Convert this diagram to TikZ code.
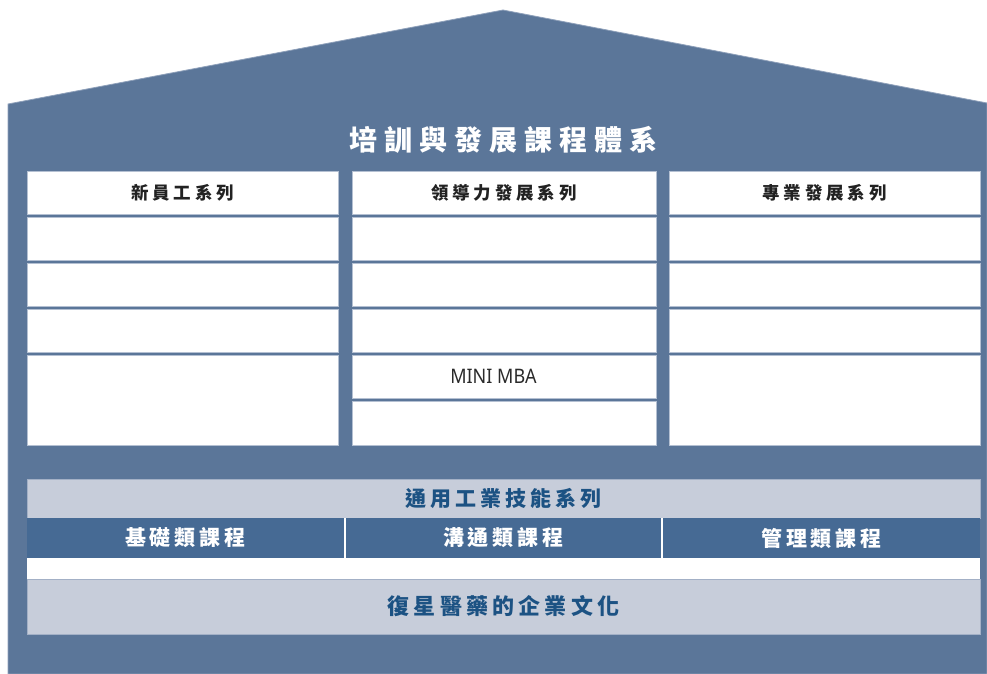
\documentclass[tikz,border=0pt]{standalone}
\usepackage{fontspec}
\newfontfamily\cjkT[LetterSpace=25]{Noto Sans CJK TC}
\newfontfamily\cjkH[LetterSpace=22]{Noto Sans CJK TC}
\newfontfamily\cjkB[LetterSpace=19]{Noto Sans CJK TC}
\newfontfamily\latinL{Noto Sans}
\definecolor{housebg}{HTML}{5B7699}
\definecolor{houseedge}{HTML}{8EA0BA}
\definecolor{darkband}{HTML}{466A94}
\definecolor{greyband}{HTML}{C7CDDA}
\definecolor{greyedge}{HTML}{A3B0C6}
\definecolor{celledge}{HTML}{B4C0D2}
\definecolor{navytext}{HTML}{1C5283}
\definecolor{headtext}{HTML}{222222}
\definecolor{mbatext}{HTML}{2A2A2A}
\tikzset{
  cellbox/.style={fill=white, draw=celledge, line width=0.6pt, inner sep=0pt, outer sep=0pt, anchor=north west},
  bandbox/.style={fill=greyband, draw=greyedge, line width=0.6pt, inner sep=0pt, outer sep=0pt, anchor=north west},
  darkbox/.style={fill=darkband, draw=none, inner sep=0pt, outer sep=0pt, anchor=north west},
  titletext/.style={font=\cjkT\bfseries\fontsize{28}{32}\selectfont, text=white},
  headtxt/.style={font=\cjkH\bfseries\fontsize{17.5}{20}\selectfont, text=headtext},
  bandtxt/.style={font=\cjkB\bfseries\fontsize{21}{24}\selectfont, text=navytext},
  darktxt/.style={font=\cjkB\bfseries\fontsize{21}{24}\selectfont, text=white},
  culturetxt/.style={font=\cjkB\bfseries\fontsize{22}{25}\selectfont, text=navytext},
}
\newcommand\mycell[6][cellbox]{\node[#1, minimum width=#5pt, minimum height=#6pt] (#2) at (#3,#4) {};}
\begin{document}
\begin{tikzpicture}[x=1pt,y=-1pt]
\useasboundingbox (0,0) rectangle (987,673);
% house
\draw[fill=housebg, draw=houseedge, line width=0.8pt] (8,104) -- (503,10) -- (987,103) -- (987,674) -- (8,674) -- cycle;
\node[titletext] (title) at (503,140) {培訓與發展課程體系};
% column 1
\mycell{c1h}{27}{171}{311}{43.5}
\mycell{c1a}{27}{217.5}{311}{43}
\mycell{c1b}{27}{263.5}{311}{43}
\mycell{c1c}{27}{309.5}{311}{43}
\mycell{c1d}{27}{355.5}{311}{90}
% column 2
\mycell{c2h}{352}{171}{304}{43.5}
\mycell{c2a}{352}{217.5}{304}{43}
\mycell{c2b}{352}{263.5}{304}{43}
\mycell{c2c}{352}{309.5}{304}{43}
\mycell{c2d}{352}{355.5}{304}{43}
\mycell{c2e}{352}{401.5}{304}{44}
% column 3
\mycell{c3h}{669}{171}{311}{43.5}
\mycell{c3a}{669}{217.5}{311}{43}
\mycell{c3b}{669}{263.5}{311}{43}
\mycell{c3c}{669}{309.5}{311}{43}
\mycell{c3d}{669}{355.5}{311}{90}
% header texts
\node[headtxt] (h1) at (c1h.center) {新員工系列};
\node[headtxt] (h2) at (c2h.center) {領導力發展系列};
\node[headtxt] (h3) at (c3h.center) {專業發展系列};
\node[font=\latinL\fontsize{20}{22}\selectfont, text=mbatext, inner sep=0pt] (mba) at (493.5,376) {\scalebox{0.9}[1]{MINI MBA}};
% general skills band
\mycell[bandbox]{gen}{27}{479}{953}{39}
\node[bandtxt] (gentxt) at (gen.center) {通用工業技能系列};
\fill[white] (27,518) rectangle (980,579);
\mycell[darkbox]{d1}{27}{518}{317}{40}
\mycell[darkbox]{d2}{346}{518}{315}{40}
\mycell[darkbox]{d3}{663}{518}{317}{40}
\node[darktxt] (d1t) at (d1.center) {基礎類課程};
\node[darktxt] (d2t) at (d2.center) {溝通類課程};
\node[darktxt] (d3t) at (d3.center) {管理類課程};
% culture band
\mycell[bandbox]{cult}{27}{579}{953}{55}
\node[culturetxt] (culttxt) at (cult.center) {復星醫藥的企業文化};
\end{tikzpicture}
\end{document}
